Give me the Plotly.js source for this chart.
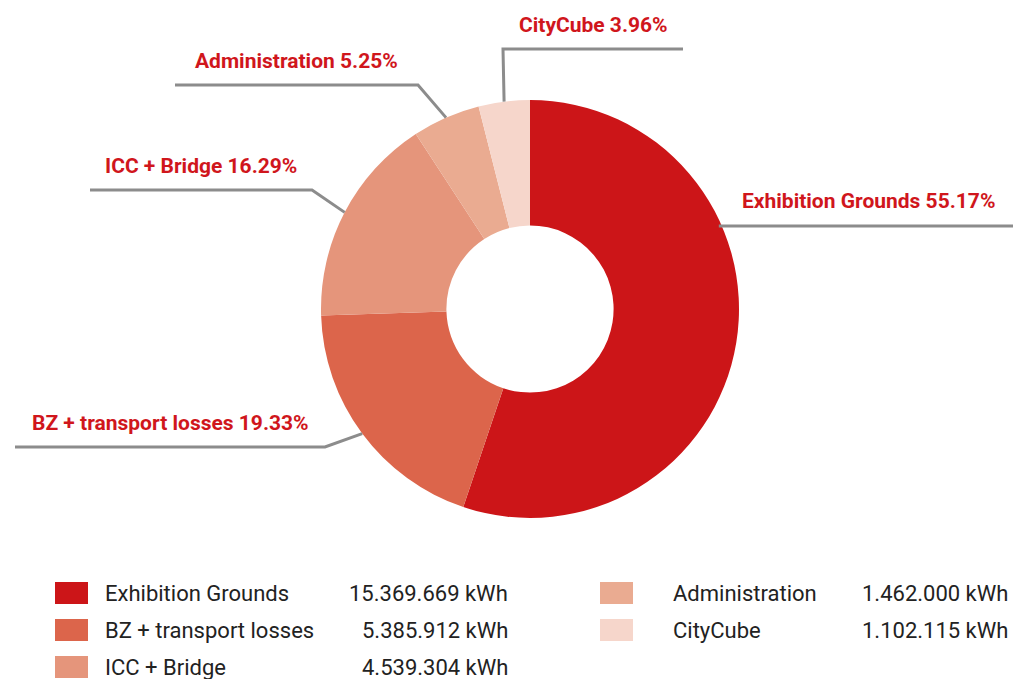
<!DOCTYPE html>
<html><head><meta charset="utf-8">
<script src="https://cdn.plot.ly/plotly-3.0.1.min.js"></script>
<style>html,body{margin:0;padding:0;background:#fff}#chart{width:1013px;height:679px}</style>
</head><body><div id="chart"></div>
<script>
// ---- data ----
const categories = ["Exhibition Grounds", "BZ + transport losses", "ICC + Bridge", "Administration", "CityCube"];
const valuesKWh = [15369669, 5385912, 4539304, 1462000, 1102115];
const sliceColors = ["#cc1518", "#dc654b", "#e5957b", "#eaab91", "#f6d6cb"];

// ---- layout constants (pixels) ----
const W = 1013, H = 679;
const CX = 530, CY = 309, R = 209;
const FONT = "Roboto, sans-serif";
const LABEL_RED = "#d0161c";
const LINE_GRAY = "#8c8c8c";
const leader = [
  {lineY: 226, endX: 1013},
  {elbow: [325, 447], endX: 15},
  {elbow: [312, 190], endX: 90},
  {elbow: [418, 85], endX: 175},
  {elbow: [503, 49], endX: 683}
];
const legendCols = [{sq: 55, text: 103, val: 510}, {sq: 600, text: 671, val: 1010}];
const legendRows = [593, 630, 667];

const px = x => x / W;
const py = y => 1 - y / H;

const total = valuesKWh.reduce((a, b) => a + b, 0);
const pct = valuesKWh.map(v => v / total * 100);
const fmtKWh = v => String(v).replace(/\B(?=(\d{3})+(?!\d))/g, ".") + " kWh";

const shapes = [], annotations = [];
let cum = 0;
valuesKWh.forEach((v, i) => {
  const start = cum / total * 360;
  cum += v;
  const end = cum / total * 360;
  const mid = (start + end) / 2 * Math.PI / 180;
  const L = leader[i];
  let pts;
  if (L.lineY !== undefined) {
    const ax = CX + Math.sqrt(R * R - (CY - L.lineY) ** 2);
    pts = [[ax - 3, L.lineY], [L.endX, L.lineY]];
  } else {
    const ax = CX + R * Math.sin(mid), ay = CY - R * Math.cos(mid);
    pts = [[ax, ay], L.elbow, [L.endX, L.elbow[1]]];
  }
  const path = pts.map((p, k) => (k ? "L" : "M") + px(p[0]) + "," + py(p[1])).join(" ");
  shapes.push({type: "path", xref: "paper", yref: "paper", path: path,
    line: {color: LINE_GRAY, width: 3}});
  const hy = pts[pts.length - 1][1];
  const x0 = pts[pts.length - 2][0], x1 = pts[pts.length - 1][0];
  const label = categories[i] + " " + pct[i].toFixed(2) + "%";
  const lf = {family: FONT, size: 21, color: LABEL_RED, weight: "bold"};
  if (L.lineY !== undefined) {
    annotations.push({xref: "paper", yref: "paper", x: px(997), y: py(hy - 25),
      xanchor: "right", yanchor: "middle", showarrow: false, text: label, font: lf});
  } else {
    annotations.push({xref: "paper", yref: "paper", x: px((x0 + x1) / 2), y: py(hy - 24),
      xanchor: "center", yanchor: "middle", showarrow: false, text: label, font: lf});
  }
  const col = legendCols[i < 3 ? 0 : 1];
  const ry = legendRows[i < 3 ? i : i - 3];
  shapes.push({type: "rect", xref: "paper", yref: "paper",
    x0: px(col.sq), x1: px(col.sq + 33), y0: py(ry - 11), y1: py(ry + 11),
    fillcolor: sliceColors[i], line: {width: 0}});
  annotations.push({xref: "paper", yref: "paper", x: px(col.text), y: py(ry),
    xanchor: "left", yanchor: "middle", showarrow: false, text: categories[i],
    font: {family: FONT, size: 22, color: "#222222"}});
  annotations.push({xref: "paper", yref: "paper", x: px(col.val), y: py(ry),
    xanchor: "right", yanchor: "middle", showarrow: false, text: fmtKWh(v),
    font: {family: FONT, size: 22, color: "#222222"}});
});

const trace = {
  type: "pie", labels: categories, values: valuesKWh, hole: 0.4,
  sort: false, direction: "clockwise", rotation: 0,
  marker: {colors: sliceColors, line: {width: 0}},
  textinfo: "none", hoverinfo: "none",
  domain: {x: [px(CX - R), px(CX + R)], y: [py(CY + R), py(CY - R)]}
};

Plotly.newPlot("chart", [trace], {
  width: W, height: H, margin: {l: 0, r: 0, t: 0, b: 0},
  paper_bgcolor: "#ffffff", showlegend: false,
  shapes: shapes, annotations: annotations
}, {staticPlot: true});
</script></body></html>
